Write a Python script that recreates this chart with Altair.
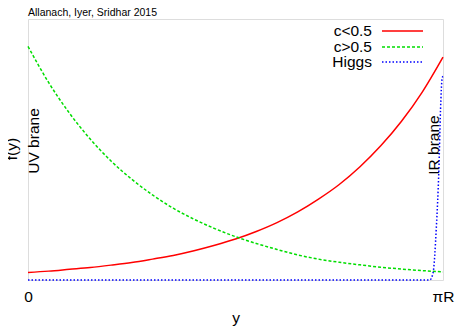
import altair as alt
import pandas as pd

# data (x in units of pi*R, y in arbitrary units)
x_pts = [0.0, 0.05, 0.1, 0.15, 0.2, 0.25, 0.3, 0.35, 0.4, 0.45, 0.5,
         0.55, 0.6, 0.65, 0.7, 0.75, 0.8, 0.85, 0.9, 0.95, 1.0]
red_vals = [0.029, 0.034, 0.041, 0.048, 0.057, 0.067, 0.080, 0.094, 0.112, 0.133, 0.157,
            0.186, 0.22, 0.261, 0.31, 0.366, 0.434, 0.514, 0.608, 0.72, 0.854]
green_vals = [0.895, 0.756, 0.639, 0.540, 0.456, 0.386, 0.326, 0.275, 0.233, 0.197, 0.166,
              0.140, 0.117, 0.096, 0.080, 0.068, 0.058, 0.049, 0.042, 0.036, 0.031]
higgs_x = [0.0, 0.5, 0.968, 0.976, 0.984, 0.990, 0.994, 0.998, 1.0]
higgs_vals = [0.0, 0.0, 0.0, 0.027, 0.203, 0.42, 0.65, 0.774, 0.78]

series_names = ["c<0.5", "c>0.5", "Higgs"]
series_colors = ["#ff0000", "#00dd00", "#0000ff"]
x_tick_values = [0, 1]
x_tick_labels = ["0", "πR"]

FONT = "Liberation Sans"

red_df = pd.DataFrame({"x": x_pts, "y": red_vals})
green_df = pd.DataFrame({"x": x_pts, "y": green_vals})
higgs_df = pd.DataFrame({"x": higgs_x, "y": higgs_vals})

xscale = alt.Scale(domain=[0, 1], nice=False, zero=False)
yscale = alt.Scale(domain=[0, 1], nice=False)

label_expr = "datum.value == 0 ? '%s' : '%s'" % (x_tick_labels[0], x_tick_labels[1])

xaxis = alt.Axis(values=x_tick_values, labelExpr=label_expr, grid=False, ticks=False,
                 tickSize=0, domain=False, labelPadding=9, labelFontSize=15.5,
                 labelFont=FONT, labelColor="#000", labelFlush=False, title=None)
yaxis = alt.Axis(labels=False, ticks=False, grid=False, domain=False, title=None)

red = alt.Chart(red_df).mark_line(color=series_colors[0], strokeWidth=1.5, interpolate="monotone").encode(
    x=alt.X("x:Q", scale=xscale, axis=xaxis),
    y=alt.Y("y:Q", scale=yscale, axis=yaxis),
)
green = alt.Chart(green_df).mark_line(color=series_colors[1], strokeWidth=1.5, strokeDash=[3, 2],
                                      interpolate="monotone").encode(
    x=alt.X("x:Q", scale=xscale), y=alt.Y("y:Q", scale=yscale))
higgs = alt.Chart(higgs_df).mark_line(color=series_colors[2], strokeWidth=1.5, strokeDash=[1.5, 2],
                                      interpolate="monotone").encode(
    x=alt.X("x:Q", scale=xscale), y=alt.Y("y:Q", scale=yscale))

# legend
leg_df = pd.DataFrame({"name": series_names, "color": series_colors,
                       "ypos": [12, 28, 43]})
leg_text = alt.Chart(leg_df).mark_text(align="right", baseline="middle", fontSize=15.5, font=FONT,
                                       color="#000").encode(
    x=alt.value(344), y=alt.Y("ypos:Q", scale=None), text="name:N")
leg_lines = []
dashes = [[1, 0], [3, 2], [1.5, 2]]
for i, nm in enumerate(series_names):
    d = leg_df.iloc[[i]]
    leg_lines.append(alt.Chart(d).mark_rule(color=series_colors[i], strokeWidth=1.5,
                                            strokeDash=dashes[i]).encode(
        x=alt.value(354), x2=alt.value(395), y=alt.Y("ypos:Q", scale=None)))

def label(txt, x, y, size=15.5, angle=0, align="center", baseline="middle"):
    return alt.Chart(pd.DataFrame({"t": [txt]})).mark_text(
        text=txt, fontSize=size, font=FONT, color="#000", angle=angle, align=align,
        baseline=baseline).encode(x=alt.value(x), y=alt.value(y))

title = label("Allanach, Iyer, Sridhar 2015", 0, -3, size=10.5, align="left", baseline="alphabetic")
fy = label("f(y)", -16, 130, angle=270)
uv = label("UV brane", 6, 122, angle=270)
ir = label("IR brane", 406, 126, angle=270)
xt = label("y", 208, 304, baseline="alphabetic")

chart = alt.layer(red, green, higgs, leg_text, *leg_lines, title, fy, uv, ir, xt).properties(
    width=415, height=261,
    autosize=alt.AutoSizeParams(type="none"),
    padding={"left": 20, "top": 11, "right": 20, "bottom": 47},
).configure_view(stroke="#333", strokeWidth=1).configure(background="white")

chart.save("out.html", embed_options={"renderer": "svg", "actions": False})
